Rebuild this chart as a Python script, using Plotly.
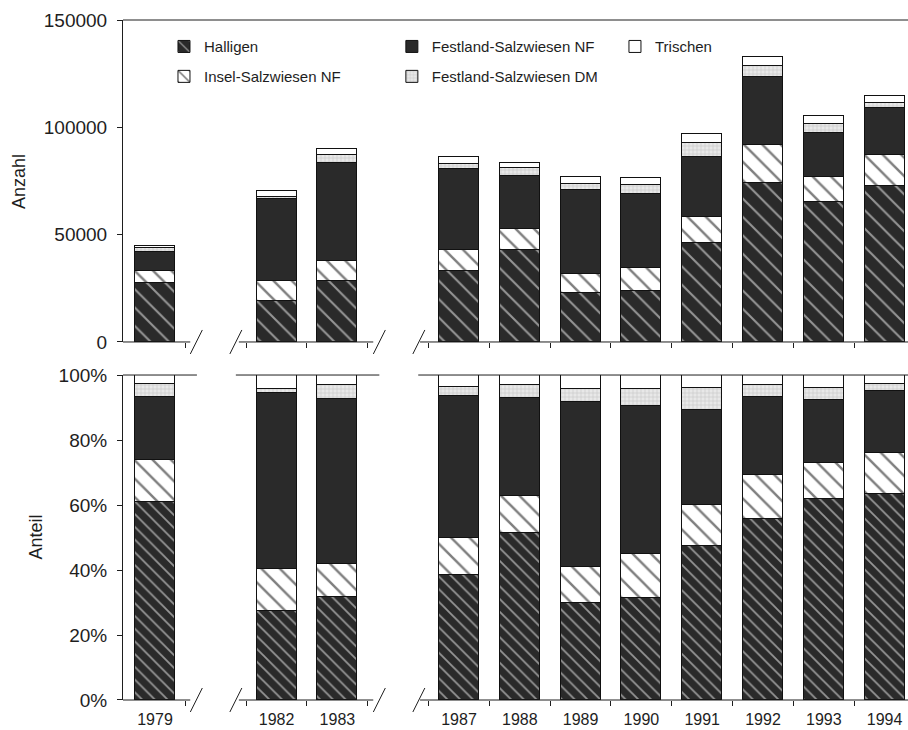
import numpy as np
import plotly.graph_objects as go

# ---------------- data ----------------
years = ["1979", "1982", "1983", "1987", "1988", "1989", "1990", "1991", "1992", "1993", "1994"]
halligen = [27300, 19200, 28400, 33200, 42900, 23000, 23900, 46000, 73900, 65100, 72700]
insel_nf = [5900, 9200, 9300, 9700, 9600, 8500, 10400, 12100, 17900, 11900, 14400]
festland_nf = [8600, 38200, 45500, 37500, 25000, 39200, 34800, 28200, 31800, 20500, 22000]
festland_dm = [1800, 800, 3900, 2500, 3400, 3100, 4000, 6600, 5000, 3900, 2300]
trischen = [1300, 3100, 2800, 3100, 2600, 3200, 3400, 3900, 4000, 4100, 3300]
series_names = ["Halligen", "Insel-Salzwiesen NF", "Festland-Salzwiesen NF",
                "Festland-Salzwiesen DM", "Trischen"]
count_ticks = [0, 50000, 100000, 150000]
share_ticks = [0, 20, 40, 60, 80, 100]
break_after = ["1979", "1983"]  # axis breaks (missing years) follow these

# ---------------- layout helpers ----------------
slots = []
gaps = []
s = 0
for yr in years:
    slots.append(s)
    if yr in break_after:
        gaps.append(s + 1)
        s += 2
    else:
        s += 1

X_LEFT, X_RIGHT = -0.526, 12.385
BAR_W = 0.66
DARK = "#2a2a2a"
INK = "#1e1e1e"
FONT = "Liberation Sans, Arial, sans-serif"
TOP_DOM = [0.5265, 1.0]
BOT_DOM = [0.0, 0.4779]

values = [halligen, insel_nf, festland_nf, festland_dm, trischen]
arr = np.array(values, dtype=float)
totals = arr.sum(axis=0)
shares = arr / totals * 100.0


def marker_style(idx, panel):
    line = dict(color="#111111", width=1)
    if idx == 0:
        size = 13 if panel == 1 else 9
        sol = 0.16 if panel == 1 else 0.2
        return dict(color=DARK, line=line,
                    pattern=dict(shape="\\", fillmode="overlay", fgcolor="white",
                                 size=size, solidity=sol))
    if idx == 1:
        return dict(color="white", line=line,
                    pattern=dict(shape="\\", fillmode="overlay", fgcolor="#000000",
                                 size=13, solidity=0.19))
    if idx == 2:
        return dict(color=DARK, line=line)
    if idx == 3:
        return dict(color="#e8e8e8", line=line,
                    pattern=dict(shape="+", fillmode="overlay", fgcolor="#ababab",
                                 size=4, solidity=0.3))
    return dict(color="white", line=line)


legend_ids = ["legend", "legend3", "legend2", "legend4", "legend5"]
legend_pos = {  # (x paper, y paper top)
    "legend": (0.0522, 0.985),
    "legend3": (0.0522, 0.941),
    "legend2": (0.3425, 0.985),
    "legend4": (0.3425, 0.941),
    "legend5": (0.6267, 0.985),
}

fig = go.Figure()
for i, name in enumerate(series_names):
    fig.add_trace(go.Bar(
        x=slots, y=values[i], name=name, width=BAR_W,
        marker=marker_style(i, 1), xaxis="x", yaxis="y",
        legend=legend_ids[i], legendgroup=name, showlegend=True,
        hovertemplate=name + ": %{y}<extra></extra>"))
for i, name in enumerate(series_names):
    fig.add_trace(go.Bar(
        x=slots, y=shares[i], name=name, width=BAR_W,
        marker=marker_style(i, 2), xaxis="x2", yaxis="y2",
        legendgroup=name, showlegend=False,
        hovertemplate=name + ": %{y:.1f}%<extra></extra>"))

# ---------------- axes ----------------
boundaries = [v + 0.5 for v in range(0, 12)]

xcommon = dict(range=[X_LEFT, X_RIGHT], showline=False, showgrid=False, zeroline=False,
               tickmode="array", tickvals=slots, ticks="",
               minor=dict(tickmode="array", tickvals=boundaries, ticks="outside",
                          ticklen=5, tickwidth=1, tickcolor=INK, showgrid=False))

fig.update_layout(
    xaxis=dict(xcommon, anchor="y", showticklabels=False),
    xaxis2=dict(xcommon, anchor="y2", ticktext=years, showticklabels=True,
                tickfont=dict(size=16, color=INK, family=FONT), ticklabelstandoff=8),
    yaxis=dict(domain=TOP_DOM, range=[0, 150000], showline=True, linecolor=INK,
               linewidth=1, ticks="outside", ticklen=5, tickcolor=INK,
               tickvals=count_ticks, ticktext=[str(v) for v in count_ticks],
               tickfont=dict(size=19, color=INK, family=FONT), ticklabelstandoff=6,
               showgrid=False, zeroline=False),
    yaxis2=dict(domain=BOT_DOM, range=[0, 100], showline=True, linecolor=INK,
                linewidth=1, ticks="outside", ticklen=5, tickcolor=INK,
                tickvals=share_ticks, ticktext=[f"{v}%" for v in share_ticks],
                tickfont=dict(size=19, color=INK, family=FONT), ticklabelstandoff=6,
                showgrid=False, zeroline=False),
)


def px(x):
    """data x -> paper x (through the shared x range)"""
    return (x - X_LEFT) / (X_RIGHT - X_LEFT)


# ---------------- broken axis lines (decoration, paper refs to avoid clipping) ----
shapes = []
lw = dict(color=INK, width=1)
g1, g2 = gaps
for ybase in (TOP_DOM[0], BOT_DOM[0]):
    segs = [(X_LEFT, g1 - 0.42), (g1 + 0.38, g2 - 0.41), (g2 + 0.36, X_RIGHT)]
    for a, b in segs:
        shapes.append(dict(type="line", xref="paper", yref="paper", x0=px(a), x1=px(b),
                           y0=ybase, y1=ybase, line=lw, layer="above"))
    for xc in (g1 - 0.32, g1 + 0.33, g2 - 0.31, g2 + 0.34):
        shapes.append(dict(type="line", xref="paper", yref="paper", xsizemode="pixel",
                           xanchor=px(xc), x0=-6, x1=6, ysizemode="pixel", yanchor=ybase,
                           y0=-12, y1=12, line=lw, layer="above"))
# top frame line of count panel
shapes.append(dict(type="line", xref="paper", yref="paper", x0=0, x1=1,
                   y0=TOP_DOM[1], y1=TOP_DOM[1], line=lw, layer="above"))
# top line of share panel, broken like the bottom axis
for a, b in [(X_LEFT, g1 - 0.31), (g1 + 0.33, g2 - 0.31), (g2 + 0.33, X_RIGHT)]:
    shapes.append(dict(type="line", xref="paper", yref="paper", x0=px(a), x1=px(b),
                       y0=BOT_DOM[1], y1=BOT_DOM[1], line=lw, layer="above"))

annotations = [
    dict(text="Anzahl", xref="paper", yref="paper", x=-0.1325, y=sum(TOP_DOM) / 2,
         textangle=-90, showarrow=False, font=dict(size=18, color=INK, family=FONT),
         xanchor="center", yanchor="middle"),
    dict(text="Anteil", xref="paper", yref="paper", x=-0.112, y=sum(BOT_DOM) / 2,
         textangle=-90, showarrow=False, font=dict(size=18, color=INK, family=FONT),
         xanchor="center", yanchor="middle"),
]

leg = dict(orientation="v", xanchor="left", yanchor="top",
           bgcolor="rgba(0,0,0,0)", borderwidth=0, itemwidth=30,
           font=dict(size=15, color=INK, family=FONT))
legends = {k: dict(leg, x=v[0], y=v[1]) for k, v in legend_pos.items()}

fig.update_layout(
    width=908, height=730,
    margin=dict(l=123, r=0, t=20, b=30),
    paper_bgcolor="white", plot_bgcolor="white",
    barmode="stack", bargap=0,
    font=dict(family=FONT, color=INK),
    shapes=shapes, annotations=annotations,
    showlegend=True,
    **legends,
)

fig.write_html("out.html")
